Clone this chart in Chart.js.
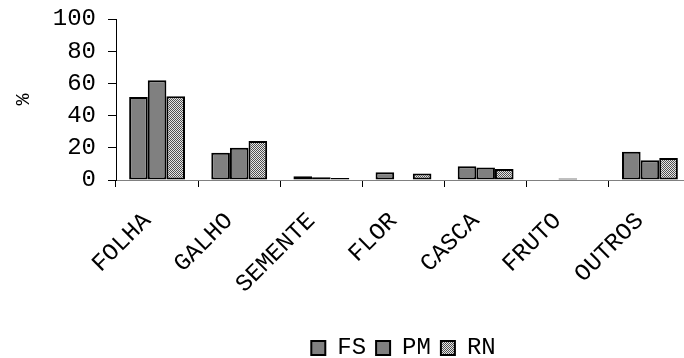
<!DOCTYPE html>
<html>
<head>
<meta charset="utf-8">
<script src="https://cdn.jsdelivr.net/npm/chart.js@4"></script>
<style>
    html, body { margin: 0; padding: 0; background: #fff; overflow: hidden; }
    #wrap { width: 700px; height: 370px; position: relative; }
</style>
</head>
<body>
<div id="wrap"><canvas id="partesChart"></canvas></div>
<script>
// Dados (%)
const categorias = ['FOLHA', 'GALHO', 'SEMENTE', 'FLOR', 'CASCA', 'FRUTO', 'OUTROS'];
const serieFS = [51.5, 17, 2.3, 4.8, 8.5, null, 17.5];
const seriePM = [62, 20, 1.7, null, 7.7, 0.9, 12.3];
const serieRN = [52, 24.3, 1.2, 4, 6.8, null, 13.7];
const ticksY = [0, 20, 40, 60, 80, 100];

function makePattern() {
    const c = document.createElement('canvas');
    c.width = 2;
    c.height = 2;
    const g = c.getContext('2d');
    g.fillStyle = '#e6e6e6';
    g.fillRect(0, 0, 2, 2);
    g.fillStyle = '#505050';
    g.fillRect(0, 0, 1, 1);
    g.fillRect(1, 1, 1, 1);
    return g.createPattern(c, 'repeat');
}

const fonte = "'Courier New', Courier, 'Liberation Mono', monospace";

document.addEventListener('DOMContentLoaded', function () {
    const ctx = document.getElementById('partesChart');
    const xadrez = makePattern();

    new Chart(ctx, {
        type: 'bar',
        data: {
            labels: categorias,
            datasets: [
                { label: 'FS', data: serieFS, backgroundColor: '#808080', borderColor: '#000', borderWidth: 2 },
                { label: 'PM', data: seriePM, backgroundColor: '#808080', borderColor: '#000', borderWidth: 2 },
                { label: 'RN', data: serieRN, backgroundColor: xadrez, borderColor: '#000', borderWidth: 2 }
            ]
        },
        options: {
            responsive: true,
            maintainAspectRatio: false,
            animation: false,
            layout: { padding: { top: 0, right: 9, bottom: 0, left: 0 } },
            datasets: {
                bar: { categoryPercentage: 0.68, barPercentage: 1.0, borderSkipped: false }
            },
            plugins: {
                legend: {
                    position: 'bottom',
                    fullSize: false,
                    labels: {
                        color: '#000',
                        font: { family: fonte, size: 24 },
                        boxWidth: 14,
                        boxHeight: 14,
                        padding: 10
                    }
                },
                tooltip: { enabled: false }
            },
            scales: {
                x: {
                    offset: true,
                    grid: {
                        offset: true,
                        drawOnChartArea: false,
                        drawTicks: true,
                        tickLength: 7,
                        color: '#000'
                    },
                    border: { color: '#808080', width: 1 },
                    ticks: {
                        color: '#000',
                        font: { family: fonte, size: 24 },
                        minRotation: 45,
                        maxRotation: 45,
                        autoSkip: false,
                        labelOffset: -10,
                        padding: 20
                    },
                    afterFit: scale => { scale.height = 146; }
                },
                y: {
                    min: 0,
                    max: 100,
                    afterBuildTicks: scale => { scale.ticks = ticksY.map(v => ({ value: v })); },
                    grid: {
                        drawOnChartArea: false,
                        drawTicks: true,
                        tickLength: 8,
                        color: '#000'
                    },
                    border: { color: '#000', width: 1 },
                    ticks: {
                        color: '#000',
                        font: { family: fonte, size: 24 },
                        autoSkip: false,
                        padding: 12
                    },
                    title: {
                        display: true,
                        text: '%',
                        color: '#000',
                        font: { family: fonte, size: 20 },
                        padding: { top: 12, bottom: 0 }
                    },
                    afterFit: scale => {
                        scale.width = 116;
                        scale.paddingTop = 19;
                    }
                }
            }
        }
    });
});
</script>
</body>
</html>
